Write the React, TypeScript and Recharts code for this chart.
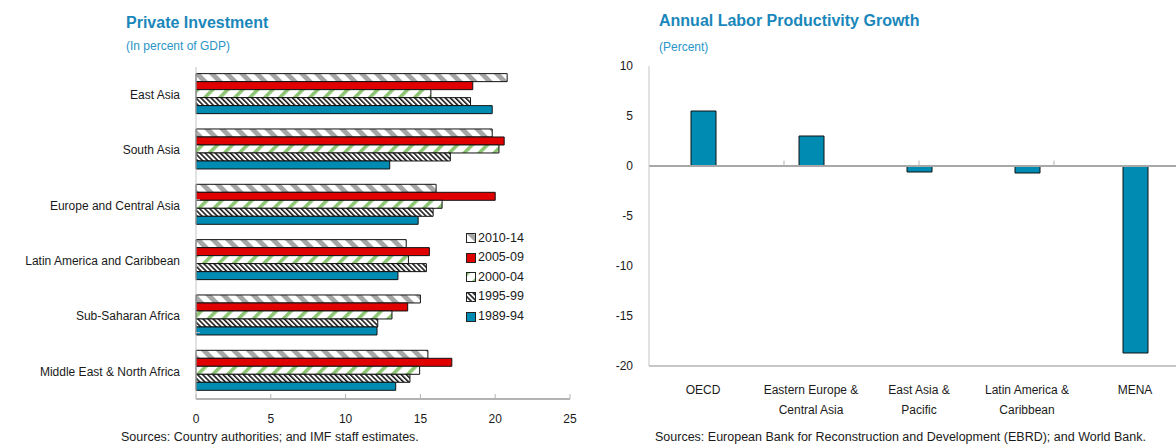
import React from 'react';
import { BarChart, Bar, XAxis, YAxis, ReferenceLine, ReferenceArea } from 'recharts';

// Private investment, in percent of GDP, by region and period
const regions = [
  'East Asia',
  'South Asia',
  'Europe and Central Asia',
  'Latin America and Caribbean',
  'Sub-Saharan Africa',
  'Middle East & North Africa',
];
const periods = ['2010-14', '2005-09', '2000-04', '1995-99', '1989-94'];
const invest2010_14 = [20.8, 19.8, 16.05, 14.05, 15.0, 15.5];
const invest2005_09 = [18.5, 20.6, 20.0, 15.6, 14.15, 17.1];
const invest2000_04 = [15.7, 20.25, 16.45, 14.2, 13.1, 14.95];
const invest1995_99 = [18.35, 17.0, 15.85, 15.4, 12.15, 14.3];
const invest1989_94 = [19.8, 12.95, 14.85, 13.5, 12.1, 13.35];
const investTicks = [0, 5, 10, 15, 20, 25];

// Annual labor productivity growth, percent
const productivityRegions = [
  'OECD',
  'Eastern Europe &\nCentral Asia',
  'East Asia &\nPacific',
  'Latin America &\nCaribbean',
  'MENA',
];
const productivityGrowth = [5.5, 3.0, -0.6, -0.7, -18.7];
const productivityTicks = [10, 5, 0, -5, -10, -15, -20];

const seriesValues = [invest2010_14, invest2005_09, invest2000_04, invest1995_99, invest1989_94];
const investData = regions.map((region, i) => {
  const row: Record<string, string | number> = { region };
  periods.forEach((p, k) => {
    row[p] = seriesValues[k][i];
  });
  return row;
});
const productivityData = productivityRegions.map((region, i) => ({
  region,
  growth: productivityGrowth[i],
}));

const FONT = '"Liberation Sans", Arial, sans-serif';
const TITLE = '#1a87bb';
const SUBTITLE = '#2a95c8';
const TEAL = '#008bb3';
const RED = '#e00000';
const periodFills = ['url(#hatchGray)', RED, 'url(#hatchGreen)', 'url(#hatchBlack)', TEAL];

const Patterns = () => (
  <defs>
    <pattern id="hatchGray" patternUnits="userSpaceOnUse" width={10.6} height={10.6} patternTransform="rotate(-45)">
      <rect width={10.6} height={10.6} fill="#ffffff" />
      <rect x={0} y={0} width={4.8} height={10.6} fill="#a6a6a6" />
    </pattern>
    <pattern id="hatchGreen" patternUnits="userSpaceOnUse" width={10.6} height={10.6} patternTransform="rotate(45)">
      <rect width={10.6} height={10.6} fill="#ffffff" />
      <rect x={0} y={0} width={3.6} height={10.6} fill="#8cc673" />
    </pattern>
    <pattern id="hatchBlack" patternUnits="userSpaceOnUse" width={3.6} height={3.6} patternTransform="rotate(-45)">
      <rect width={3.6} height={3.6} fill="#ffffff" />
      <rect x={0} y={0} width={1.6} height={3.6} fill="#1a1a1a" />
    </pattern>
  </defs>
);

const RegionTick = (props: any) => {
  const { x, y, payload } = props;
  const lines = String(payload.value).split('\n');
  return (
    <text x={x} y={y} textAnchor="middle" fill="#1a1a1a" fontSize={12} fontFamily={FONT}>
      {lines.map((line, i) => (
        <tspan key={i} x={x} dy={20}>
          {line}
        </tspan>
      ))}
    </text>
  );
};

const textStyle: React.CSSProperties = { position: 'absolute', whiteSpace: 'nowrap', fontFamily: FONT };

export default function App() {
  const bandEdges = regions.slice(1).map((_, i) => i + 1);
  const colEdges = productivityRegions.slice(1).map((_, i) => i + 1);
  return (
    <div
      style={{
        position: 'absolute',
        left: 0,
        top: 0,
        width: 1176,
        height: 447,
        overflow: 'hidden',
        background: '#ffffff',
        fontFamily: FONT,
      }}
    >
      <div style={{ ...textStyle, left: 126, top: 14.5, fontSize: 16, lineHeight: '16px', fontWeight: 700, color: TITLE }}>
        Private Investment
      </div>
      <div style={{ ...textStyle, left: 126, top: 40, fontSize: 12, lineHeight: '12px', color: SUBTITLE }}>
        (In percent of GDP)
      </div>

      <div style={{ position: 'absolute', left: 0, top: 0 }}>
        <BarChart
          layout="vertical"
          width={590}
          height={447}
          data={investData}
          margin={{ top: 67, right: 20, bottom: 18, left: 0 }}
          barCategoryGap="12%"
          barGap={0}
        >
          <Patterns />
          <XAxis
            type="number"
            domain={[0, 25]}
            ticks={investTicks}
            interval={0}
            height={30}
            tickSize={-5}
            tickMargin={20}
            axisLine={{ stroke: '#b3b3b3', strokeWidth: 2 }}
            tickLine={{ stroke: '#b3b3b3' }}
            tick={{ fill: '#1a1a1a', fontSize: 12, fontFamily: FONT }}
          />
          <YAxis
            type="category"
            dataKey="region"
            width={196}
            interval={0}
            tickLine={false}
            tickMargin={10}
            axisLine={{ stroke: '#c4c4c4' }}
            tick={{ fill: '#1a1a1a', fontSize: 12, fontFamily: FONT }}
          />
          <YAxis yAxisId="band" type="number" domain={[0, regions.length]} hide />
          <ReferenceArea yAxisId="band" x1={0} x2={25} y1={0} y2={regions.length} fill="none" stroke="#d6d6d6" />
          {bandEdges.map((e) => (
            <ReferenceLine
              key={e}
              yAxisId="band"
              segment={[{ x: 0, y: e }, { x: 0.27, y: e }]}
              stroke="#b3b3b3"
            />
          ))}
          {periods.map((p, k) => (
            <Bar
              key={p}
              dataKey={p}
              fill={periodFills[k]}
              stroke="#111111"
              strokeWidth={1}
              isAnimationActive={false}
            />
          ))}
        </BarChart>
      </div>

      <div style={{ position: 'absolute', left: 466, top: 228.5, fontSize: 12.5, lineHeight: '19.6px', color: '#1a1a1a' }}>
        {periods.map((p, k) => (
          <div key={p} style={{ display: 'flex', alignItems: 'center', height: 19.6 }}>
            <svg width={10} height={10} style={{ marginRight: 2 }}>
              <rect x={0.5} y={0.5} width={9} height={9} fill={periodFills[k]} stroke="#222222" strokeWidth={1} />
            </svg>
            <span>{p}</span>
          </div>
        ))}
      </div>

      <div style={{ ...textStyle, left: 121, top: 431, fontSize: 12.5, lineHeight: '12.5px', color: '#1a1a1a' }}>
        Sources: Country authorities; and IMF staff estimates.
      </div>

      <div style={{ ...textStyle, left: 659, top: 13, fontSize: 16, lineHeight: '16px', fontWeight: 700, color: TITLE }}>
        Annual Labor Productivity Growth
      </div>
      <div style={{ ...textStyle, left: 659, top: 40.8, fontSize: 12, lineHeight: '12px', color: SUBTITLE }}>
        (Percent)
      </div>

      <div style={{ position: 'absolute', left: 581, top: 0 }}>
        <BarChart
          width={609}
          height={447}
          data={productivityData}
          margin={{ top: 66, right: 1, bottom: 21, left: 0 }}
          barSize={25}
        >
          <XAxis
            dataKey="region"
            interval={0}
            height={60}
            tickLine={false}
            axisLine={{ stroke: '#b3b3b3', strokeWidth: 1.5 }}
            tick={<RegionTick />}
          />
          <XAxis xAxisId="band" type="number" domain={[0, productivityRegions.length]} hide />
          <YAxis
            domain={[-20, 10]}
            ticks={productivityTicks}
            interval={0}
            width={68}
            tickLine={false}
            tickMargin={10}
            axisLine={{ stroke: '#c4c4c4' }}
            tick={{ fill: '#1a1a1a', fontSize: 12, fontFamily: FONT }}
          />
          <ReferenceArea
            xAxisId="band"
            x1={0}
            x2={productivityRegions.length}
            y1={-20}
            y2={10}
            fill="none"
            stroke="#d6d6d6"
          />
          <ReferenceLine y={0} stroke="#a8a8a8" strokeWidth={2} />
          {colEdges.map((e) => (
            <ReferenceLine
              key={e}
              xAxisId="band"
              segment={[{ x: e, y: 0 }, { x: e, y: 0.55 }]}
              stroke="#b3b3b3"
            />
          ))}
          <Bar dataKey="growth" fill={TEAL} stroke="#111111" strokeWidth={1} isAnimationActive={false} />
        </BarChart>
      </div>

      <div style={{ ...textStyle, left: 655, top: 431, fontSize: 12.5, lineHeight: '12.5px', color: '#1a1a1a' }}>
        Sources: European Bank for Reconstruction and Development (EBRD); and World Bank.
      </div>
    </div>
  );
}
